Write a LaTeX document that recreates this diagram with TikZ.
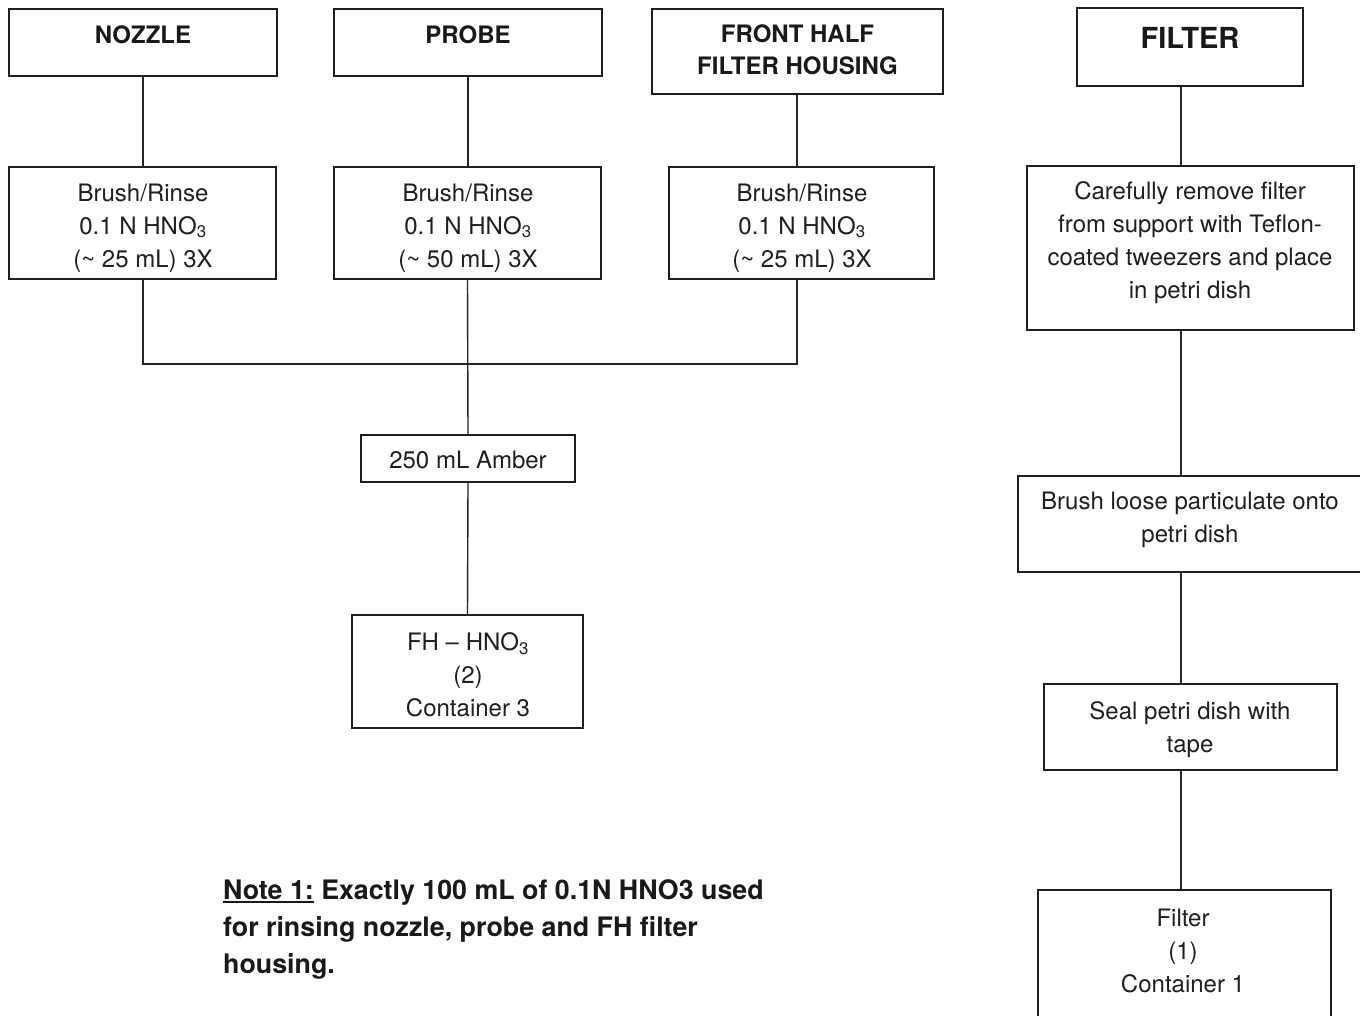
\documentclass[tikz,border=0pt]{standalone}
\usepackage{fontspec}
\setmainfont{TeX Gyre Heros}
\usetikzlibrary{calc}
% underline drawn as a rule of chosen depth and weight
\newcommand\ulbar[1]{\setbox0\hbox{#1}\rlap{\rule[-4pt]{\wd0}{2pt}}\box0\relax}

\begin{document}
\begin{tikzpicture}[x=1pt,y=-1pt,
  frame/.style={draw=black!88, line width=2.4pt, inner sep=0pt},
  link/.style={draw=black!85, line width=1.4pt},
  body/.style={inner sep=0pt, align=center, text=black!88,
               font=\fontsize{24}{33}\selectfont},
  head/.style={inner sep=0pt, align=center, text=black!90,
               font=\fontsize{24}{32}\selectfont\bfseries},
]
\useasboundingbox (0,0) rectangle (1360,1015);
\fill[white] (0,0) rectangle (1360,1015);
\clip (0,0) rectangle (1360,1015);

% ---- source boxes ----
\node[frame, minimum width=268, minimum height=67] (nozzle) at (143,42.5) {};
\node[head] (nozzleT) at (143,35) {NOZZLE};
\node[frame, minimum width=268, minimum height=67] (probe) at (468,42.5) {};
\node[head] (probeT) at (468,35) {PROBE};
\node[frame, minimum width=291, minimum height=85] (front) at (797.5,51.5) {};
\node[head] (frontT) at (797.5,50) {FRONT HALF\\FILTER HOUSING};
\node[frame, minimum width=226, minimum height=78] (filter) at (1190,47) {};
\node[head, font=\fontsize{29}{34}\selectfont\bfseries] (filterT) at (1190,38) {FILTER};

% ---- rinse steps ----
\node[frame, minimum width=267, minimum height=112] (rinseA) at (142.5,223) {};
\node[body] (rinseAT) at (143,228) {Brush/Rinse\\0.1 N HNO\textsubscript{3}\\(\textasciitilde{} 25 mL) 3X};
\node[frame, minimum width=267, minimum height=112] (rinseB) at (467.5,223) {};
\node[body] (rinseBT) at (468,228) {Brush/Rinse\\0.1 N HNO\textsubscript{3}\\(\textasciitilde{} 50 mL) 3X};
\node[frame, minimum width=265, minimum height=112] (rinseC) at (801.5,223) {};
\node[body] (rinseCT) at (802,228) {Brush/Rinse\\0.1 N HNO\textsubscript{3}\\(\textasciitilde{} 25 mL) 3X};

% ---- sample bottle and container ----
\node[frame, minimum width=214, minimum height=47] (amber) at (468,458.5) {};
\node[body] (amberT) at (468,460) {250 mL Amber};
\node[frame, minimum width=231, minimum height=113] (fh) at (467.5,671.5) {};
\node[body] (fhT) at (468,675) {FH -- HNO\textsubscript{3}\\(2)\\Container 3};

% ---- filter handling column ----
\node[frame, minimum width=327, minimum height=164] (care) at (1190.5,248) {};
\node[body] (careT) at (1190,243) {Carefully remove filter\\from support with Teflon-\\coated tweezers and place\\in petri dish};
\node[frame, minimum width=352, minimum height=96] (loose) at (1194,524) {};
\node[body] (looseT) at (1190,519.5) {Brush loose particulate onto\\petri dish};
\node[frame, minimum width=293, minimum height=86] (seal) at (1190.5,727) {};
\node[body] (sealT) at (1190,729.5) {Seal petri dish with\\tape};
\node[frame, minimum width=293, minimum height=150] (filtOne) at (1184.5,965) {};
\node[body] (filtOneT) at (1183,951) {Filter\\(1)\\Container 1};

% ---- connectors ----
\coordinate (fcol) at (1181,0);
\coordinate (hcol) at (797,0);
\coordinate (jct) at (797,364);

\draw[link] (nozzle.south) -- (rinseA.north -| nozzle.south);
\draw[link] (probe.south) -- (rinseB.north -| probe.south);
\draw[link] (front.south -| hcol) -- (rinseC.north -| hcol);
\draw[link] (rinseA.south -| nozzle.south) |- (jct) -- (rinseC.south -| hcol);
\draw[link] (rinseB.south) -- (amber.north);
\draw[link] (amber.south) -- (fh.north);

\draw[link] (filter.south -| fcol) -- (care.north -| fcol);
\draw[link] (care.south -| fcol) -- (loose.north -| fcol);
\draw[link] (loose.south -| fcol) -- (seal.north -| fcol);
\draw[link] (seal.south -| fcol) -- (filtOne.north -| fcol);

% ---- note ----
\node[inner sep=0pt, align=left, anchor=north west, text=black!90,
      font=\fontsize{26.8}{37}\selectfont\bfseries] (note) at (223,879)
  {\ulbar{Note 1:} Exactly 100 mL of 0.1N HNO3 used\\for rinsing nozzle, probe and FH filter\\housing.};
\end{tikzpicture}
\end{document}
